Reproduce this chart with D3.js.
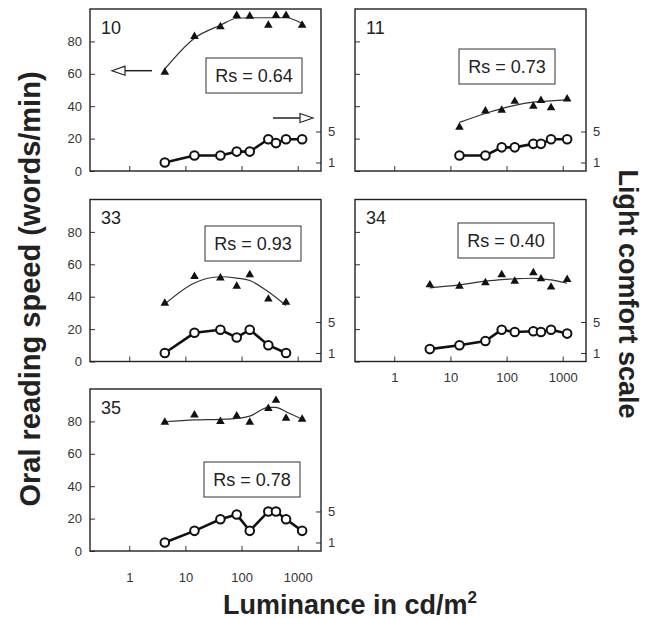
<!DOCTYPE html>
<html><head><meta charset="utf-8">
<script src="https://cdn.jsdelivr.net/npm/d3@7"></script>
<style>body{margin:0;background:#fff} svg{display:block;font-family:"Liberation Sans",Arial,sans-serif}</style>
</head><body>
<svg id="c" width="646" height="619"></svg>
<script>
// ---- data ----
const subjects = ["10", "11", "33", "34", "35"];
const rsLabels = ["Rs = 0.64", "Rs = 0.73", "Rs = 0.93", "Rs = 0.40", "Rs = 0.78"];
const xTickValues = [1, 10, 100, 1000];
const speedTicks = [0, 20, 40, 60, 80];
const comfortTicks = [1, 5];

const lum10 = [4.3, 14.5, 42, 82, 140, 300, 410, 620, 1200];
const speed10 = [61, 83, 89, 96, 95.5, 90, 96, 96, 90];
const fit10 = [63, 82, 90, 94.3, 94.6, 94.6, 94.6, 94.6, 91];
const comfort10 = [1, 1.9, 1.9, 2.4, 2.4, 4, 3.5, 4, 4];

const lum11 = [14.5, 42, 82, 140, 300, 410, 620, 1200];
const speed11 = [27, 37, 37.5, 43, 40, 43.5, 39, 44.5];
const fit11 = [30, 35.5, 38.5, 40.5, 42.5, 43, 43.3, 44];
const comfort11 = [1.9, 1.9, 2.95, 2.95, 3.4, 3.4, 4, 4];

const lum33 = [4.3, 14.5, 42, 82, 140, 300, 620];
const speed33 = [36, 52.5, 51.5, 46.5, 53.5, 38.5, 36.5];
const fit33 = [35.5, 48.5, 52.3, 51.5, 50, 43, 34.5];
const comfort33 = [1, 3.6, 4, 3, 4, 2, 1];

const lum34 = [4.3, 14.5, 42, 82, 140, 300, 410, 620, 1200];
const speed34 = [47.3, 46.5, 48.6, 53.5, 49.6, 54.8, 51, 45.9, 50.6];
const fit34 = [45.5, 47.3, 49.6, 50.6, 51, 51.4, 51, 50.4, 48.3];
const comfort34 = [1.5, 2, 2.55, 4, 3.7, 3.8, 3.7, 4, 3.5];

const lum35 = [4.3, 14.5, 42, 82, 140, 300, 410, 620, 1200];
const speed35 = [79.5, 84, 80, 83.3, 79.5, 88, 93, 82, 81.3];
const fit35 = [79.8, 80.9, 81.3, 81.9, 83.3, 88.7, 88.7, 86, 81.3];
const comfort35 = [1, 2.5, 4, 4.6, 2.5, 5, 5, 4, 2.5];

const series = [
  {lum: lum10, speed: speed10, fit: fit10, comfort: comfort10},
  {lum: lum11, speed: speed11, fit: fit11, comfort: comfort11},
  {lum: lum33, speed: speed33, fit: fit33, comfort: comfort33},
  {lum: lum34, speed: speed34, fit: fit34, comfort: comfort34},
  {lum: lum35, speed: speed35, fit: fit35, comfort: comfort35}
];

// ---- layout ----
const W = 231, H = 162;
const layout = [
  {x: 90,  y: 9,     leftLabels: true,  xLabels: false, box: [116, 49]},
  {x: 355, y: 9,     leftLabels: false, xLabels: false, box: [104, 40]},
  {x: 90,  y: 199.5, leftLabels: true,  xLabels: false, box: [115, 26.5]},
  {x: 355, y: 199.5, leftLabels: false, xLabels: true,  box: [103, 23.5], xPad: 11},
  {x: 90,  y: 389,   leftLabels: true,  xLabels: true,  box: [114, 73], xPad: 22}
];

const svg = d3.select("#c");
const ink = "#222";
const xs = d3.scaleLog().domain([0.2, 2600]).range([0, W]);
const yL = d3.scaleLinear().domain([0, 100]).range([H, 0]);
const yR = d3.scaleLinear().domain([-0.1, 20.8]).range([H, 0]);

subjects.forEach((name, i) => {
  const L = layout[i], S = series[i];
  const g = svg.append("g").attr("transform", `translate(${L.x},${L.y})`);

  const xa = g.append("g").attr("transform", `translate(0,${H})`)
    .call(d3.axisBottom(xs).tickValues(xTickValues).tickSize(-5)
      .tickPadding(L.xPad || 8).tickFormat(L.xLabels ? d => String(d) : () => ""));
  const la = g.append("g")
    .call(d3.axisLeft(yL).tickValues(speedTicks).tickSize(-5).tickPadding(8)
      .tickFormat(L.leftLabels ? d => String(d) : () => ""));
  const ra = g.append("g").attr("transform", `translate(${W},0)`)
    .call(d3.axisRight(yR).tickValues(comfortTicks).tickSize(-5).tickPadding(7));
  [xa, la, ra].forEach(a => {
    a.select(".domain").remove();
    a.selectAll("line").attr("stroke", "#333").attr("stroke-width", 1);
    a.selectAll("text").attr("fill", "#333").style("font-size", "13px")
      .style("font-family", '"Liberation Sans",Arial,sans-serif');
  });

  g.append("rect").attr("width", W).attr("height", H)
    .attr("fill", "none").attr("stroke", ink).attr("stroke-width", 1.4);

  g.append("text").attr("x", 11).attr("y", 24.5).text(name)
    .attr("fill", ink).style("font-size", "18px");

  g.append("rect").attr("x", L.box[0]).attr("y", L.box[1]).attr("width", 96).attr("height", 35)
    .attr("fill", "#fff").attr("stroke", "#333").attr("stroke-width", 1);
  g.append("text").attr("x", L.box[0] + 48).attr("y", L.box[1] + 17.5).attr("dy", "0.35em")
    .attr("text-anchor", "middle").text(rsLabels[i]).attr("fill", ink).style("font-size", "18px");

  const idx = d3.range(S.lum.length);
  g.append("path").datum(idx)
    .attr("d", d3.line().curve(d3.curveMonotoneX).x(j => xs(S.lum[j])).y(j => yL(S.fit[j])))
    .attr("fill", "none").attr("stroke", "#333").attr("stroke-width", 1.2);
  g.selectAll("path.tri").data(idx).join("path").attr("class", "tri")
    .attr("d", d3.symbol(d3.symbolTriangle, 32))
    .attr("transform", j => `translate(${xs(S.lum[j])},${yL(S.speed[j])})`)
    .attr("fill", "#111");
  g.append("path").datum(idx)
    .attr("d", d3.line().x(j => xs(S.lum[j])).y(j => yR(S.comfort[j])))
    .attr("fill", "none").attr("stroke", "#111").attr("stroke-width", 2.6);
  g.selectAll("circle").data(idx).join("circle")
    .attr("cx", j => xs(S.lum[j])).attr("cy", j => yR(S.comfort[j])).attr("r", 4.3)
    .attr("fill", "#fff").attr("stroke", "#111").attr("stroke-width", 2);

  if (i === 0) {
    const ay = 61.7, by = 109;
    g.append("line").attr("x1", 62).attr("x2", 35).attr("y1", ay).attr("y2", ay)
      .attr("stroke", "#222").attr("stroke-width", 1.5);
    g.append("path").attr("d", `M22,${ay} L35,${ay - 4.5} L35,${ay + 4.5} Z`)
      .attr("fill", "#fff").attr("stroke", "#222").attr("stroke-width", 1.2);
    g.append("line").attr("x1", 183).attr("x2", 210).attr("y1", by).attr("y2", by)
      .attr("stroke", "#222").attr("stroke-width", 1.5);
    g.append("path").attr("d", `M223,${by} L210,${by - 4.5} L210,${by + 4.5} Z`)
      .attr("fill", "#fff").attr("stroke", "#222").attr("stroke-width", 1.2);
  }
});

svg.append("text").attr("transform", "translate(40,289) rotate(-90)")
  .attr("text-anchor", "middle").attr("fill", ink)
  .style("font-size", "29px").style("font-weight", "bold")
  .text("Oral reading speed (words/min)");
svg.append("text").attr("transform", "translate(619,294) rotate(90)")
  .attr("text-anchor", "middle").attr("fill", ink)
  .style("font-size", "27px").style("font-weight", "bold")
  .text("Light comfort scale");
const xt = svg.append("text").attr("x", 350).attr("y", 614)
  .attr("text-anchor", "middle").attr("fill", ink)
  .style("font-size", "27px").style("font-weight", "bold");
xt.append("tspan").text("Luminance in cd/m");
xt.append("tspan").attr("dy", -11).style("font-size", "17px").text("2");
</script>
</body></html>
